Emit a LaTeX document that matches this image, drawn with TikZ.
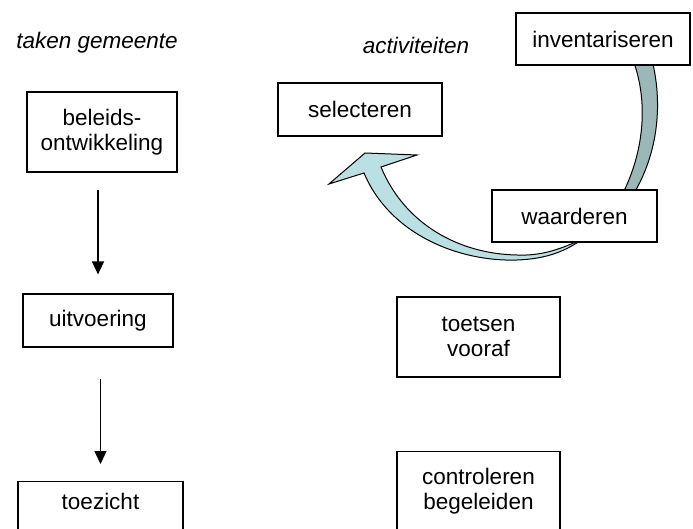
\documentclass[tikz,border=0pt]{standalone}
\usepackage{fontspec}
\setmainfont{Liberation Sans}
\usetikzlibrary{arrows.meta}
\definecolor{darkband}{RGB}{155,183,183}
\definecolor{lightband}{RGB}{186,224,227}
\begin{document}
\begin{tikzpicture}[x=1pt,y=-1pt,
 box/.style={draw=black, line width=1.2pt, fill=white, align=center, font=\fontsize{22.5}{25.5}\selectfont, inner sep=0pt},
 lbl/.style={font=\fontsize{22.5}{25.5}\selectfont\itshape, inner sep=0pt},
 txt/.style={align=center, font=\fontsize{22.5}{25.5}\selectfont, inner sep=0pt},
 arr/.style={line width=1.5pt, -{Triangle[width=12pt,length=13pt]}},
 band/.style={draw=black, line width=1pt}]
\useasboundingbox (0,0) rectangle (693,529);
\clip (0,0) rectangle (693,529);
% headings
\node[lbl] (h1) at (97,43) {taken gemeente};
\node[lbl] (h2) at (416,45) {activiteiten};
% curved block arrows
\draw[band, fill=darkband] (652,60) .. controls (662,100) and (660,150) .. (633,195) -- (622,195) .. controls (645,150) and (648,100) .. (633,60) -- cycle;
\draw[band, fill=lightband] (364,173) .. controls (390,235) and (460,262) .. (517,260) .. controls (545,259) and (565,252) .. (584,238) .. controls (560,250) and (540,256) .. (517,255) .. controls (460,254) and (405,225) .. (381,167) -- (417,155) -- (365,153) -- (329,184) -- cycle;
% left column
\node[box, minimum width=150pt, minimum height=80pt] (bel) at (102,132) {beleids-\\ontwikkeling};
\node[box, minimum width=150pt, minimum height=53pt] (uit) at (98,320.5) {uitvoering};
\node[box, minimum width=165pt, minimum height=70pt, anchor=north] (toe) at (100.5,481) {};
\node[txt] (toet) at ([yshift=-20pt]toe.north) {toezicht};
\draw[arr, shorten <=17pt, shorten >=19pt] (bel.south -| uit.center) -- (uit.north);
\draw[arr, shorten <=31pt, shorten >=17pt] (uit.south -| toe.center) -- (toe.north);
% right column
\node[box, minimum width=174pt, minimum height=52pt] (inv) at (603,39) {inventariseren};
\node[box, minimum width=164pt, minimum height=53pt] (sel) at (360,109.5) {selecteren};
\node[box, minimum width=165pt, minimum height=52pt] (waa) at (574.5,216) {waarderen};
\node[box, minimum width=163pt, minimum height=80pt] (toets) at (478.5,337) {toetsen\\vooraf};
\node[box, minimum width=163pt, minimum height=100pt, anchor=north] (con) at (478.5,451) {};
\node[txt] (cont) at ([yshift=-40pt]con.north) {controleren\\begeleiden};
\end{tikzpicture}
\end{document}
